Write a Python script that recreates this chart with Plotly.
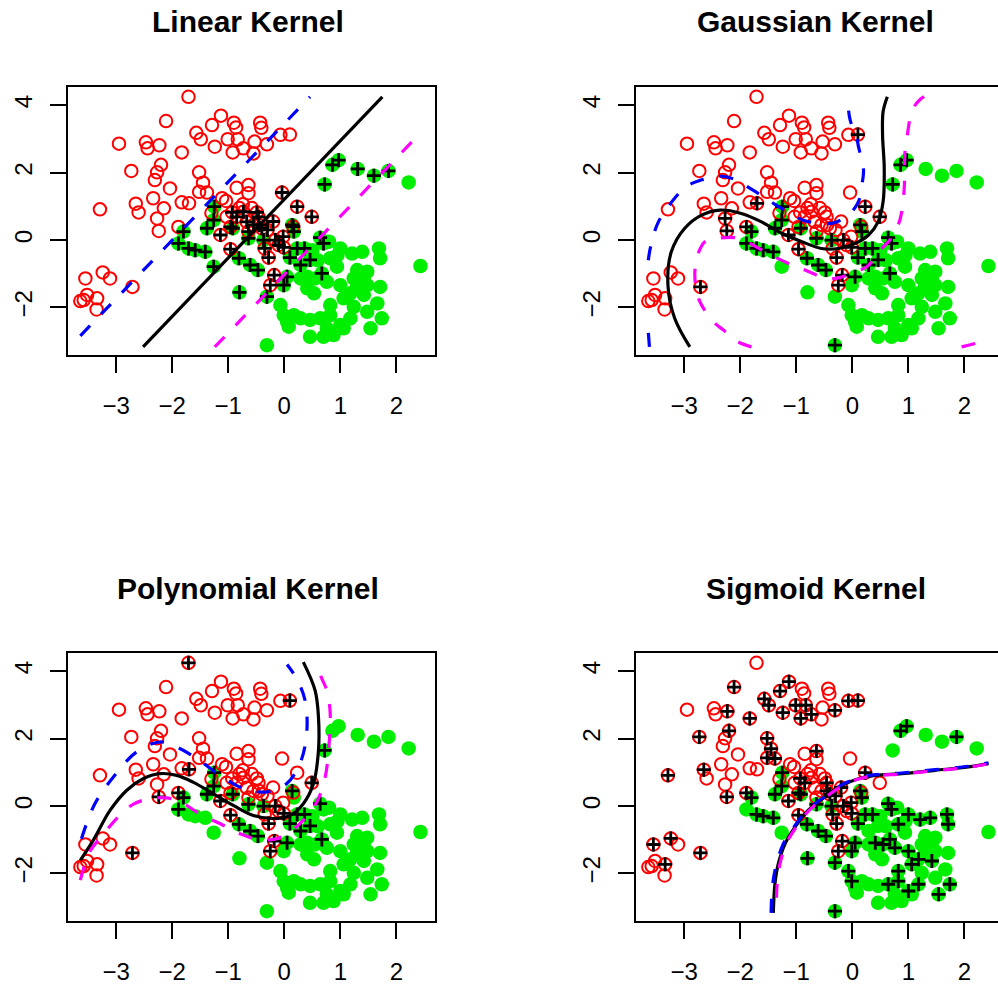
import plotly.graph_objects as go

# ---- observations (two classes) ----
red_x = [-1.71, -2.11, -1.13, -1.29, -0.90, -0.86, -0.43, -0.41, -1.57, -1.49,
         -2.95, -2.47, -2.44, -2.23, -1.83, -1.24, -1.01, -0.83, -0.92, -0.73,
         -0.53, -0.55, -0.31, -0.07, 0.10, -2.73, -2.20, -2.27, -2.31, -2.04,
         -1.52, -1.45, -1.52, -1.38, -0.85, -0.64, -0.04, -2.34, -2.65, -2.60,
         -3.29, -2.15, -1.83, -1.70, -1.11, -1.04, -0.74, 0.23, 0.49, -0.93,
         -0.85, -0.73, -0.49, -0.46, -0.67, -0.55, -0.40, -0.64, -0.96, -2.27,
         -2.24, -1.89, -1.14, -0.96, -0.28, -0.16, -0.01, -0.18, -0.25, -2.71,
         -3.55, -3.24, -3.11, -3.52, -3.64, -3.58, -3.34, -3.35, 0.16, -0.02,
         -0.10, -1.03, -0.64, -0.20, -0.35, -0.30, -0.80, -0.58, -1.30, -0.45]
red_y = [4.25, 3.53, 3.69, 3.41, 3.48, 3.34, 3.48, 3.33, 3.18, 2.99,
         2.86, 2.90, 2.72, 2.81, 2.60, 2.77, 2.99, 2.99, 2.60, 2.72,
         2.92, 2.57, 2.84, 3.12, 3.13, 2.05, 2.23, 2.01, 1.78, 1.53,
         2.01, 1.70, 1.43, 1.41, 1.55, 1.63, 1.41, 1.24, 1.08, 0.82,
         0.91, 0.94, 1.12, 1.09, 1.24, 1.16, 1.06, 0.99, 0.69, 0.82,
         0.69, 0.84, 0.82, 0.69, 0.54, 0.45, 0.35, 0.25, 0.39, 0.64,
         0.27, 0.39, 0.15, -0.27, -0.52, 0.00, -0.22, -1.04, -1.34, -1.39,
         -1.14, -0.96, -1.14, -1.63, -1.81, -1.78, -1.73, -2.06, 0.40, 0.10,
         -0.15, 0.69, 1.39, 0.55, -0.25, 0.30, 0.95, 0.95, 0.80, 0.45]

green_x = [0.97, 0.86, 1.31, 1.60, 1.86, 2.22, 0.72, 2.43, -1.25, -1.26,
           -1.38, -1.80, -1.89, -1.71, -1.59, -1.41, -1.26, -0.80, -0.31, -0.31,
           -0.92, -0.81, -0.61, -0.47, -0.37, -0.64, 0.14, 0.17, 0.05, 0.10,
           0.23, 0.36, 0.29, 0.46, 0.64, 0.70, 0.67, -0.01, 1.00, 1.21,
           1.39, 1.69, 1.71, 0.82, 0.94, 1.30, 1.48, 1.24, 1.48, 1.71,
           1.66, 1.42, 1.18, 1.00, 0.76, 0.55, 0.41, 0.53, 0.82, 1.06,
           1.24, 1.48, 1.74, 1.54, 1.18, 1.00, 0.82, 0.64, 0.46, 0.29,
           0.17, -0.01, -0.07, 0.08, 0.46, 0.70, 0.88, 1.06, 0.76, 0.05,
           0.29, 0.41, 1.42, 1.30, 0.60, 0.50, 0.80, 0.95]
green_y = [2.37, 2.23, 2.11, 1.91, 2.05, 1.71, 1.65, -0.77, 0.99, 0.59,
           0.35, 0.25, -0.10, -0.25, -0.30, -0.35, -0.79, -1.55, -1.68, -3.12,
           0.35, -0.54, -0.74, -0.89, 0.00, 0.05, 0.45, 0.25, -1.09, -0.52,
           -0.25, -0.25, -0.74, -0.59, 0.07, -0.10, -0.99, -1.34, -0.25, -0.40,
           -0.35, -0.25, -0.54, -0.54, -0.79, -0.89, -0.94, -1.14, -1.34, -1.39,
           -1.88, -1.63, -1.58, -1.34, -1.24, -1.14, -1.09, -1.58, -1.93, -1.73,
           -1.98, -2.13, -2.32, -2.62, -2.32, -2.52, -2.23, -2.32, -2.37, -2.32,
           -2.23, -2.23, -1.93, -2.57, -2.87, -2.87, -2.82, -2.62, -2.62, -2.42,
           -1.14, -1.43, -1.09, -1.34, -0.60, -0.30, -0.05, -0.45]

# ---- support vectors of each fitted model (indices into the classes) ----
sv_linear_red = [36, 47, 48, 49, 50, 51, 52, 53, 54, 55, 56, 57, 58, 62, 63, 64,
                 65, 66, 67, 68, 78, 79, 80, 83, 84, 85, 89]
sv_linear_green = [0, 1, 2, 3, 4, 6, 8, 9, 10, 11, 12, 13, 14, 15, 16, 17, 18,
                   20, 21, 22, 23, 24, 25, 26, 27, 28, 29, 30, 31, 32, 33, 34,
                   35, 36, 37]
sv_gauss_red = [24, 43, 47, 48, 59, 60, 61, 62, 63, 64, 65, 66, 67, 68, 69]
sv_gauss_green = [0, 1, 6, 8, 9, 10, 11, 12, 13, 14, 15, 19, 20, 21, 22, 23, 24,
                  25, 26, 27, 28, 29, 30, 31, 32, 33, 34, 35, 36]
sv_poly_red = [0, 24, 43, 48, 60, 61, 62, 63, 64, 65, 66, 67, 68, 69]
sv_poly_green = [6, 8, 9, 10, 11, 12, 20, 21, 22, 23, 24, 25, 26, 28, 29, 30,
                 31, 32, 33, 34, 36]
sv_sigmoid_red = [1, 2, 3, 8, 9, 13, 14, 15, 16, 17, 18, 19, 22, 23, 24, 25, 26,
                  30, 31, 32, 33, 35, 38, 40, 47, 49, 50, 53, 56, 58, 60, 61,
                  62, 63, 64, 65, 66, 67, 68, 69, 70, 71, 76, 79, 83, 84, 85, 89]
sv_sigmoid_green = [0, 1, 4, 8, 9, 10, 11, 13, 14, 15, 17, 18, 19, 20, 21, 22,
                    23, 24, 25, 26, 27, 28, 29, 30, 31, 34, 35, 36, 37, 38, 39,
                    40, 41, 42, 43, 51, 52, 53, 54, 55, 56, 58, 59, 62, 63, 64,
                    65, 66, 67, 71, 72]

# ---- decision contours (solid = fitted model, dashed = alternatives) ----
lin_black_x = [-2.52, 1.75]
lin_black_y = [-3.17, 4.25]
lin_blue_x = [-3.64, 0.46]
lin_blue_y = [-2.84, 4.25]
lin_mag_x = [-1.24, 2.45]
lin_mag_y = [-3.17, 3.21]

gau_black_x = [-2.90, -3.17, -3.29, -3.23, -2.99, -2.69, -2.36, -1.98, -1.62,
               -1.26, -0.90, -0.55, -0.25, 0.05, 0.29, 0.46, 0.55, 0.57, 0.54,
               0.55, 0.625]
gau_black_y = [-3.17, -2.32, -1.34, -0.35, 0.35, 0.74, 0.89, 0.79, 0.54,
               0.20, -0.05, -0.25, -0.25, -0.10, 0.15, 0.54, 1.14, 2.13, 3.12,
               3.81, 4.25]
gau_blue_x = [-3.62, -3.64, None, -3.64, -3.60, -3.46, -3.17, -2.96, -2.66,
              -2.42, -2.09, -1.89, -1.59, -1.38, -1.11, -0.875, -0.55, -0.31,
              -0.04, 0.11, 0.17, 0.20, 0.11, 0.08, -0.04, -0.08]
gau_blue_y = [-3.17, -2.75, None, -0.60, -0.20, 0.54, 1.24, 1.59, 1.80,
              1.90, 1.80, 1.60, 1.29, 1.06, 0.79, 0.59, 0.49, 0.52,
              0.79, 1.14, 1.63, 2.08, 2.77, 3.02, 3.57, 4.10]
gau_mag_x = [-1.80, -2.04, -2.30, -2.48, -2.69, -2.78, -2.81, -2.78, -2.74,
             -2.63, -2.42, -2.09, -1.89, -1.50, -1.08, -0.845, -0.55, -0.31,
             0.05, 0.26, 0.525, 0.67, 0.82, 0.88, 0.93, 0.93, 0.94, 0.97,
             1.03, 1.09, 1.21, 1.30, None, 1.95, 2.07, 2.31, 2.45]
gau_mag_y = [-3.17, -3.02, -2.67, -2.42, -1.93, -1.53, -0.94, -0.64, -0.35,
             -0.05, 0.05, 0.07, -0.05, -0.40, -0.74, -0.89, -1.09, -1.14,
             -0.94, -0.79, -0.25, 0.00, 0.45, 0.82, 1.63, 2.00, 2.60, 2.96,
             3.61, 3.92, 4.17, 4.27, None, -3.17, -3.12, -3.02, -2.95]

pol_black_x = [-3.64, -3.41, -3.11, -2.81, -2.52, -2.22, -1.92, -1.63, -1.27,
               -0.91, -0.55, -0.20, 0.10, 0.34, 0.52, 0.61, 0.61, 0.55, 0.34]
pol_black_y = [-1.61, -1.02, -0.13, 0.47, 0.81, 0.96, 0.91, 0.71, 0.37,
               0.02, -0.28, -0.37, -0.28, 0.07, 0.66, 1.65, 2.64, 3.43, 4.27]
pol_blue_x = [-3.62, -3.38, -3.05, -2.64, -2.22, -1.92, -1.56, -1.15, -0.73,
              -0.31, 0.04, 0.28, 0.40, 0.37, 0.22, 0.05]
pol_blue_y = [-0.97, 0.07, 0.86, 1.60, 1.90, 1.75, 1.41, 0.91, 0.52,
              0.42, 0.66, 1.26, 2.15, 3.14, 3.78, 4.20]
pol_mag_x = [-3.64, -3.47, -3.25, -2.98, -2.70, -2.40, -2.10, -1.85, -1.51,
             -1.09, -0.79, -0.43, -0.08, 0.28, 0.58, 0.73, 0.79, 0.82, 0.76,
             0.67, 0.60]
pol_mag_y = [-2.20, -1.35, -0.88, -0.35, 0.05, 0.22, 0.24, 0.12, -0.23,
             -0.57, -0.82, -1.00, -0.94, -0.52, 0.12, 0.86, 1.65, 2.74, 3.43,
             3.78, 4.10]

sig_black_x = [-1.41, -1.38, -1.32, -1.20, -1.02, -0.79, -0.49, -0.19, 0.11,
               0.41, 0.88, 1.48, 2.07, 2.43]
sig_black_y = [-3.17, -2.30, -1.71, -1.12, -0.62, -0.13, 0.27, 0.61, 0.81,
               0.91, 0.96, 1.06, 1.16, 1.26]
sig_blue_x = [-1.45, -1.42, -1.35, -1.23, -1.04, -0.81, -0.50, -0.19, 0.11,
              0.41, 0.88, 1.48, 2.07, 2.43]
sig_blue_y = [-3.17, -2.30, -1.71, -1.12, -0.62, -0.13, 0.27, 0.63, 0.83,
              0.93, 0.98, 1.08, 1.18, 1.28]
sig_mag_x = [-1.36, -1.34, -1.29, -1.18, -1.00, -0.77, -0.47, -0.18, 0.11,
             0.41, 0.88, 1.48, 2.07, 2.43]
sig_mag_y = [-3.17, -2.30, -1.71, -1.12, -0.62, -0.13, 0.27, 0.60, 0.80,
             0.90, 0.95, 1.05, 1.15, 1.25]

x_ticks = [-3, -2, -1, 0, 1, 2]
y_ticks = [-2, 0, 2, 4]

W, H = 998, 984
FONT = "Liberation Sans, Arial, Helvetica, sans-serif"

panels = [
    dict(title="Linear Kernel", left=68, right=435, top=87, bottom=355,
         xr=[-3.86, 2.69], sv=(sv_linear_red, sv_linear_green),
         black=(lin_black_x, lin_black_y), blue=(lin_blue_x, lin_blue_y),
         mag=(lin_mag_x, lin_mag_y), smooth=False),
    dict(title="Gaussian Kernel", left=636, right=998, top=87, bottom=355,
         xr=[-3.86, 2.60], sv=(sv_gauss_red, sv_gauss_green),
         black=(gau_black_x, gau_black_y), blue=(gau_blue_x, gau_blue_y),
         mag=(gau_mag_x, gau_mag_y), smooth=True),
    dict(title="Polynomial Kernel", left=68, right=435, top=653, bottom=921,
         xr=[-3.86, 2.69], sv=(sv_poly_red, sv_poly_green),
         black=(pol_black_x, pol_black_y), blue=(pol_blue_x, pol_blue_y),
         mag=(pol_mag_x, pol_mag_y), smooth=True),
    dict(title="Sigmoid Kernel", left=636, right=998, top=653, bottom=921,
         xr=[-3.86, 2.60], sv=(sv_sigmoid_red, sv_sigmoid_green),
         black=(sig_black_x, sig_black_y), blue=(sig_blue_x, sig_blue_y),
         mag=(sig_mag_x, sig_mag_y), smooth=True),
]

fig = go.Figure()
layout = dict(width=W, height=H, margin=dict(l=0, r=0, t=0, b=0),
              paper_bgcolor="white", plot_bgcolor="white", showlegend=False,
              annotations=[])

for i, p in enumerate(panels, start=1):
    xa = "x" if i == 1 else f"x{i}"
    ya = "y" if i == 1 else f"y{i}"
    sv_r, sv_g = p["sv"]
    shape = "spline" if p["smooth"] else "linear"

    fig.add_trace(go.Scatter(
        x=green_x, y=green_y, mode="markers", xaxis=xa, yaxis=ya,
        marker=dict(symbol="circle", size=14.5, color="#00ee00",
                    line=dict(width=0)), hoverinfo="skip"))
    fig.add_trace(go.Scatter(
        x=red_x, y=red_y, mode="markers", xaxis=xa, yaxis=ya,
        marker=dict(symbol="circle-open", size=12.5, color="#ff0000",
                    line=dict(width=2, color="#ff0000")), hoverinfo="skip"))
    fig.add_trace(go.Scatter(
        x=[red_x[k] for k in sv_r] + [green_x[k] for k in sv_g],
        y=[red_y[k] for k in sv_r] + [green_y[k] for k in sv_g],
        mode="markers", xaxis=xa, yaxis=ya,
        marker=dict(symbol="cross-thin", size=10, color="black",
                    line=dict(width=2.8, color="black")), hoverinfo="skip"))

    bx, by = p["black"]
    fig.add_trace(go.Scatter(x=bx, y=by, mode="lines", xaxis=xa, yaxis=ya,
                             line=dict(color="black", width=3.2, shape=shape),
                             hoverinfo="skip"))
    ux, uy = p["blue"]
    fig.add_trace(go.Scatter(x=ux, y=uy, mode="lines", xaxis=xa, yaxis=ya,
                             line=dict(color="#0000ff", width=3.2, shape=shape,
                                       dash="14px,16px"),
                             hoverinfo="skip"))
    mx, my = p["mag"]
    mag_dash = "0px,15px,14px,1px" if i == 4 else "14px,16px"
    fig.add_trace(go.Scatter(x=mx, y=my, mode="lines", xaxis=xa, yaxis=ya,
                             line=dict(color="#ff00ff", width=3.2, shape=shape,
                                       dash=mag_dash),
                             hoverinfo="skip"))

    right_edge = p["right"] >= W
    common = dict(showgrid=False, zeroline=False, showline=True,
                  linecolor="black", linewidth=2, ticks="outside",
                  ticklen=16, tickwidth=1.6, tickcolor="black",
                  tickfont=dict(family=FONT, size=24, color="black"))
    layout["xaxis" if i == 1 else f"xaxis{i}"] = dict(
        common, domain=[p["left"] / W, min(p["right"] / W, 1.0)],
        range=p["xr"], anchor=ya, tickvals=x_ticks, mirror=True,
        ticklabelstandoff=12)
    layout["yaxis" if i == 1 else f"yaxis{i}"] = dict(
        common, domain=[1 - p["bottom"] / H, 1 - p["top"] / H],
        range=[-3.41, 4.54], anchor=xa, tickvals=y_ticks,
        mirror=not right_edge, tickangle=-90, ticklabelstandoff=8)

    cx = ((p["left"] + (p["right"] if not right_edge else 1003)) / 2 - 4) / W
    layout["annotations"].append(dict(
        text=f"<b>{p['title']}</b>", x=cx, y=1 - (p["top"] - 65) / H,
        xref="paper", yref="paper", xanchor="center", yanchor="middle",
        showarrow=False, font=dict(family=FONT, size=30, color="black")))

fig.update_layout(**layout)
fig.write_html("out.html")
